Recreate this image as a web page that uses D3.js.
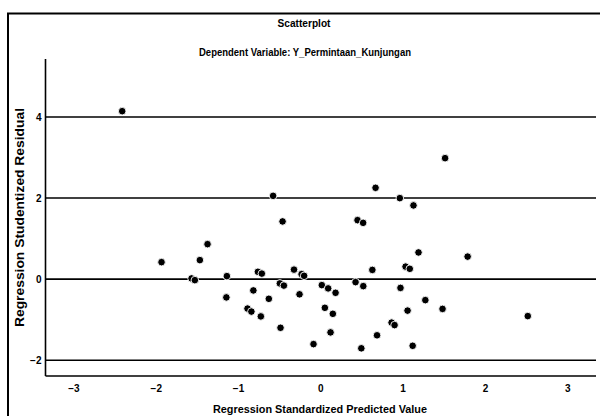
<!DOCTYPE html>
<html>
<head>
<meta charset="utf-8">
<script src="https://cdn.jsdelivr.net/npm/d3@7"></script>
<style>
  html, body { margin: 0; padding: 0; background: #fff; }
  svg { display: block; }
  text { font-family: "Liberation Sans", Arial, sans-serif; font-weight: bold; fill: #000; }
</style>
</head>
<body>
<svg id="chart" width="600" height="416"></svg>
<script>
const title = "Scatterplot";
const subtitle = "Dependent Variable: Y_Permintaan_Kunjungan";
const xLabel = "Regression Standardized Predicted Value";
const yLabel = "Regression Studentized Residual";
const xTicks = [-3, -2, -1, 0, 1, 2, 3];
const yTicks = [-2, 0, 2, 4];

// Standardized predicted values
const predicted = [
  -2.408, -1.930, -1.464, -1.371, -1.565, -1.525, -1.136, -1.142, -0.814, -0.759,
  -0.711, -0.885, -0.838, -0.723, -0.626, -0.492, -0.443, -0.484, -0.320, -0.253,
  -0.228, -0.197, -0.574, -0.459, 0.018, 0.095, 0.185, 0.055, 0.152, 0.124,
  -0.083, 0.452, 0.520, 0.671, 0.966, 1.132, 1.193, 0.632, 1.036, 1.087,
  0.428, 0.522, 0.974, 1.276, 1.060, 0.866, 0.902, 0.689, 0.498, 1.122,
  1.790, 1.485, 1.516, 2.521
];
// Studentized residuals
const residual = [
  4.143, 0.419, 0.469, 0.863, 0.017, -0.025, 0.074, -0.451, -0.279, 0.180,
  0.136, -0.727, -0.801, -0.920, -0.486, -0.106, -0.160, -1.201, 0.234, -0.375,
  0.123, 0.081, 2.054, 1.423, -0.148, -0.229, -0.338, -0.708, -0.856, -1.314,
  -1.603, 1.455, 1.388, 2.252, 1.998, 1.818, 0.658, 0.227, 0.308, 0.254,
  -0.074, -0.173, -0.217, -0.518, -0.777, -1.073, -1.134, -1.386, -1.707, -1.645,
  0.555, -0.735, 2.984, -0.912
];

const svg = d3.select("#chart");

// outer frame
svg.append("rect")
  .attr("x", 8).attr("y", 13.5)
  .attr("width", 620).attr("height", 430)
  .attr("fill", "none").attr("stroke", "#000").attr("stroke-width", 2);

const x = d3.scaleLinear().domain([-3.34, 3.35]).range([45.5, 596]);
const y = d3.scaleLinear().domain([-2.39, 5.43]).range([376, 59]);

// gridlines
svg.append("g").selectAll("line").data(yTicks).join("line")
  .attr("x1", x.range()[0]).attr("x2", x.range()[1])
  .attr("y1", d => y(d)).attr("y2", d => y(d))
  .attr("stroke", "#000").attr("stroke-width", 1.6);

// axes lines (left & bottom)
svg.append("line")
  .attr("x1", x.range()[0]).attr("x2", x.range()[0])
  .attr("y1", y.range()[1]).attr("y2", y.range()[0])
  .attr("stroke", "#000").attr("stroke-width", 1.6);
svg.append("line")
  .attr("x1", x.range()[0]).attr("x2", x.range()[1])
  .attr("y1", y.range()[0]).attr("y2", y.range()[0])
  .attr("stroke", "#000").attr("stroke-width", 1.6);

// axes via d3 (no domain, no tick lines)
const xAxis = svg.append("g")
  .attr("transform", `translate(0,${y.range()[0]})`)
  .call(d3.axisBottom(x).tickValues(xTicks).tickSize(0).tickPadding(9).tickFormat(d3.format("d")));
xAxis.select(".domain").remove();
xAxis.selectAll("text").style("font-size", "10px").style("font-family", "'Liberation Sans', Arial, sans-serif").style("font-weight", "bold");

const yAxis = svg.append("g")
  .attr("transform", `translate(${x.range()[0]},0)`)
  .call(d3.axisLeft(y).tickValues(yTicks).tickSize(0).tickPadding(4).tickFormat(d3.format("d")));
yAxis.select(".domain").remove();
yAxis.selectAll("text").style("font-size", "10px").style("font-family", "'Liberation Sans', Arial, sans-serif").style("font-weight", "bold");

// titles
svg.append("text").attr("x", 304).attr("y", 27).attr("text-anchor", "middle")
  .attr("textLength", 53).attr("lengthAdjust", "spacingAndGlyphs")
  .style("font-size", "11.5px").text(title);
svg.append("text").attr("x", 305).attr("y", 56).attr("text-anchor", "middle")
  .attr("textLength", 212).attr("lengthAdjust", "spacingAndGlyphs")
  .style("font-size", "11.5px").text(subtitle);
svg.append("text").attr("x", 320).attr("y", 413).attr("text-anchor", "middle")
  .attr("textLength", 214).attr("lengthAdjust", "spacingAndGlyphs")
  .style("font-size", "11.5px").text(xLabel);
svg.append("text")
  .attr("transform", `translate(24,${(y.range()[0] + y.range()[1]) / 2}) rotate(-90)`)
  .attr("text-anchor", "middle")
  .attr("textLength", 219).attr("lengthAdjust", "spacingAndGlyphs")
  .style("font-size", "13px").text(yLabel);

// points
const pts = predicted.map((p, i) => ({ p, r: residual[i] }));
svg.append("g").selectAll("circle").data(pts).join("circle")
  .attr("cx", d => x(d.p)).attr("cy", d => y(d.r))
  .attr("r", 3.8)
  .attr("fill", "#000").attr("stroke", "#fff").attr("stroke-width", 0.9);
</script>
</body>
</html>
